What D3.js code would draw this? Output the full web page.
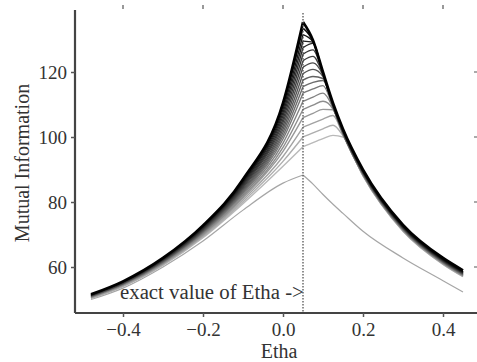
<!DOCTYPE html>
<html>
<head>
<meta charset="utf-8">
<script src="https://cdn.jsdelivr.net/npm/d3@7"></script>
<style>
  body { margin: 0; background: #fff; }
  svg { display: block; }
  text { font-family: "Liberation Serif", "DejaVu Serif", serif; fill: #333; }
</style>
</head>
<body>
<script>
const etha = [-0.48, -0.4, -0.3, -0.2, -0.1, 0, 0.05, 0.075, 0.1, 0.125, 0.15, 0.2, 0.3, 0.4, 0.45];
const peakIndex = 6; // etha = 0.05, exact value

// mutual information runs, darkest (highest) first
const miRuns = [
    [51.6, 55.6, 62.8, 72.8, 87.0, 110.5, 135.4, 129.8, 120.0, 110.5, 102.5, 90.0, 73.0, 62.8, 59.0],
    [51.5, 55.5, 62.7, 72.6, 86.6, 109.5, 133.5, 129.4, 119.6, 110.1, 102.1, 89.6, 72.6, 62.4, 58.6],
    [51.5, 55.4, 62.6, 72.4, 86.2, 108.5, 131.5, 129.3, 119.5, 110.0, 102.0, 89.5, 72.5, 62.3, 58.5],
    [51.4, 55.4, 62.4, 72.2, 85.9, 107.5, 129.5, 129.2, 119.4, 109.9, 101.9, 89.4, 72.4, 62.2, 58.4],
    [51.3, 55.3, 62.3, 72.0, 85.5, 106.5, 127.5, 128.8, 119.3, 109.8, 101.8, 89.3, 72.3, 62.1, 58.3],
    [51.3, 55.2, 62.2, 71.8, 85.1, 105.5, 125.5, 126.8, 119.2, 109.7, 101.7, 89.2, 72.2, 62.0, 58.2],
    [51.2, 55.1, 62.1, 71.6, 84.7, 104.5, 123.5, 124.8, 119.1, 109.6, 101.6, 89.1, 72.1, 61.9, 58.1],
    [51.1, 55.0, 62.0, 71.4, 84.3, 103.4, 121.5, 122.8, 119.0, 109.5, 101.5, 89.0, 72.0, 61.8, 58.0],
    [51.1, 54.9, 61.8, 71.2, 83.9, 102.4, 119.5, 120.8, 118.6, 109.4, 101.4, 88.9, 71.9, 61.7, 57.9],
    [51.0, 54.9, 61.7, 71.0, 83.5, 101.4, 117.5, 118.6, 118.0, 109.3, 101.3, 88.8, 71.8, 61.6, 57.8],
    [50.9, 54.8, 61.6, 70.8, 83.1, 100.4, 115.5, 116.8, 117.4, 109.2, 101.2, 88.7, 71.7, 61.5, 57.7],
    [50.9, 54.7, 61.5, 70.6, 82.7, 99.4, 113.5, 114.8, 115.8, 109.1, 101.1, 88.6, 71.6, 61.4, 57.6],
    [50.8, 54.6, 61.3, 70.4, 82.2, 98.1, 111.0, 112.3, 113.5, 109.0, 101.0, 88.5, 71.5, 61.3, 57.5],
    [50.7, 54.5, 61.2, 70.1, 81.7, 96.8, 108.5, 109.8, 111.0, 108.6, 100.9, 88.4, 71.4, 61.2, 57.4],
    [50.6, 54.4, 61.0, 69.9, 81.3, 95.6, 106.0, 107.3, 108.5, 108.4, 100.8, 88.3, 71.3, 61.1, 57.3],
    [50.5, 54.2, 60.9, 69.6, 80.7, 94.0, 103.0, 104.3, 105.5, 106.6, 100.7, 88.2, 71.2, 61.0, 57.2],
    [50.4, 54.1, 60.7, 69.3, 80.1, 92.5, 100.0, 101.3, 102.5, 103.6, 100.4, 88.1, 71.1, 60.9, 57.1],
    [50.3, 54.0, 60.5, 69.0, 79.5, 91.0, 97.0, 98.3, 99.5, 100.5, 100.0, 88.0, 71.0, 60.8, 57.0]
];
// the lone low run
const miLow = [50.0, 53.5, 60.0, 68.0, 77.5, 85.8, 88.3, 85.5, 82.3, 79.3, 76.5, 71.0, 62.8, 55.8, 52.3];

const xTicks = [-0.4, -0.2, 0.0, 0.2, 0.4];
const yTicks = [60, 80, 100, 120];
const exactEtha = 0.05;

const width = 477, height = 362;
const plotLeft = 75, plotRight = 477, plotTop = 10, plotBottom = 313;

const x = d3.scaleLinear().domain([-0.52, 0.485]).range([plotLeft, plotRight]);
const y = d3.scaleLinear().domain([45.85, 139.08]).range([plotBottom, plotTop]);

const svg = d3.select("body").append("svg")
    .attr("width", width)
    .attr("height", height);

const line = d3.line()
    .curve(d3.curveMonotoneX)
    .x(d => x(d[0]))
    .y(d => y(d[1]));

// split each run at the exact value so the peak stays sharp
function halves(vals) {
    const pts = vals.map((v, i) => [etha[i], v]);
    return [pts.slice(0, peakIndex + 1), pts.slice(peakIndex)];
}

const grey = d3.scaleLinear().domain([0, miRuns.length - 1]).range([0, 185]);

const runs = svg.append("g").attr("class", "runs");

halves(miLow).forEach(h => {
    runs.append("path")
        .attr("d", line(h))
        .attr("fill", "none")
        .attr("stroke", "#a6a6a6")
        .attr("stroke-width", 1.2);
});

for (let k = miRuns.length - 1; k >= 0; k--) {
    const g = Math.round(grey(k));
    halves(miRuns[k]).forEach(h => {
        runs.append("path")
            .attr("d", line(h))
            .attr("fill", "none")
            .attr("stroke", d3.rgb(g, g, g))
            .attr("stroke-width", k == 0 ? 2.6 : 1.4)
            .attr("stroke-linejoin", "round");
    });
}

// dotted line at exact etha
svg.append("line")
    .attr("x1", x(exactEtha)).attr("x2", x(exactEtha))
    .attr("y1", plotTop + 3).attr("y2", plotBottom)
    .attr("stroke", "#555")
    .attr("stroke-width", 1.3)
    .attr("stroke-dasharray", "1.5,1.5");

svg.append("text")
    .attr("x", 120)
    .attr("y", 299)
    .attr("font-size", 20.8)
    .text("exact value of Etha ->");

// axes
const xAxis = svg.append("g")
    .attr("transform", "translate(0," + plotBottom + ")")
    .call(d3.axisBottom(x).tickValues(xTicks).tickFormat(d3.format(".1f")).tickSizeOuter(0).tickSize(4).tickPadding(6));

const yAxis = svg.append("g")
    .attr("transform", "translate(" + plotLeft + ",0)")
    .call(d3.axisLeft(y).tickValues(yTicks).tickSizeOuter(0).tickSize(4).tickPadding(4));

[xAxis, yAxis].forEach(a => {
    a.select(".domain").attr("stroke", "#444").attr("stroke-width", 2.2);
    a.selectAll(".tick line").attr("stroke", "#555").attr("stroke-width", 1.5);
    a.selectAll(".tick text")
        .attr("font-family", "Liberation Serif, serif")
        .attr("font-size", 19)
        .attr("fill", "#333");
});
yAxis.select(".domain").attr("d", "M0," + plotBottom + "V" + plotTop);
xAxis.select(".domain").attr("d", "M" + plotLeft + ",0H" + plotRight);

// faint tick marks at the top and right edges
svg.append("g").selectAll("line")
    .data(xTicks)
    .join("line")
    .attr("x1", d => x(d)).attr("x2", d => x(d))
    .attr("y1", 5).attr("y2", 9)
    .attr("stroke", "#999")
    .attr("stroke-width", 2);

svg.append("g").selectAll("line")
    .data(yTicks)
    .join("line")
    .attr("x1", 474).attr("x2", 477)
    .attr("y1", d => y(d)).attr("y2", d => y(d))
    .attr("stroke", "#aaa")
    .attr("stroke-width", 2);

// axis titles
svg.append("text")
    .attr("x", 279)
    .attr("y", 358)
    .attr("text-anchor", "middle")
    .attr("font-size", 20)
    .text("Etha");

svg.append("text")
    .attr("transform", "translate(29," + 163 + ") rotate(-90)")
    .attr("text-anchor", "middle")
    .attr("font-size", 20)
    .text("Mutual Information");
</script>
</body>
</html>
